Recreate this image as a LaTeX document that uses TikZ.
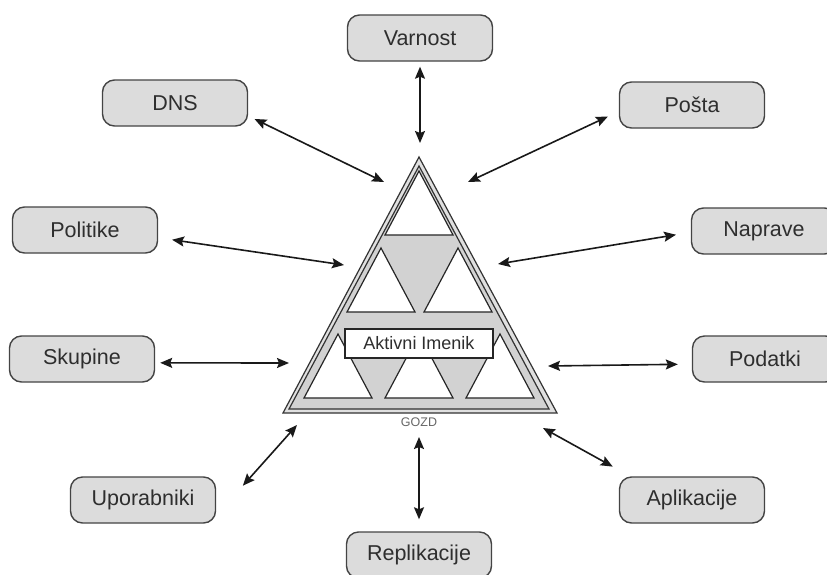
\documentclass[tikz,border=0pt]{standalone}
\usepackage{fontspec}
\setmainfont{Liberation Sans}
\usetikzlibrary{arrows.meta,calc}
\definecolor{boxfill}{HTML}{DCDCDC}
\definecolor{boxline}{HTML}{444444}
\definecolor{txt}{HTML}{2E2E2E}
\definecolor{bandfill}{HTML}{E0E0E0}
\definecolor{pyrfill}{HTML}{D2D2D2}
\begin{document}
\begin{tikzpicture}[x=1pt,y=-1pt,
  topic/.style={draw=boxline, line width=1.4pt, fill=boxfill, rounded corners=12pt,
    minimum width=145pt, minimum height=46pt, inner sep=0pt,
    font=\fontsize{21.5}{24}\selectfont, text=txt},
  link/.style={line width=1.6pt, draw=black!90,
    {Stealth[length=12pt,width=10pt,inset=2pt]}-{Stealth[length=12pt,width=10pt,inset=2pt]}},
  cell/.style={draw=black!85, line width=1.2pt, fill=white, line join=miter},
  shell/.style={draw=black!80, line width=1.2pt, line join=miter}]
\useasboundingbox (0,0) rectangle (827,574);

% pyramid: double outline and grey body
\draw[shell, fill=bandfill] (419,157) -- (557,413) -- (283,413) -- cycle;
\draw[shell, fill=pyrfill] (419,166) -- (549,409) -- (289,409) -- cycle;

% white cells, one row under another
\foreach \cx/\ty in {419/171, 381/248, 458/248, 338/334, 419/334, 500/334}
  \draw[cell] (\cx,\ty) -- ++(34,64) -- ++(-68,0) -- cycle;

\node[draw=black!85, line width=1.2pt, fill=white, minimum width=148pt,
  minimum height=29pt, inner sep=0pt, font=\fontsize{18}{20}\selectfont, text=txt]
  (ad) at (419,343.5) {Aktivni Imenik};
\node[font=\fontsize{12.5}{14}\selectfont, text=black!60, inner sep=0pt] (gozd) at (419,422) {GOZD};

% surrounding topics
\node[topic] (varnost) at (420,38)  {Varnost};
\node[topic] (dns)     at (175,103) {DNS};
\node[topic] (posta)   at (692,105) {Pošta};
\node[topic] (politike) at (85,230) {Politike};
\node[topic] (naprave) at (764,231) {Naprave};
\node[topic] (skupine) at (82,359)  {Skupine};
\node[topic] (podatki) at (765,359) {Podatki};
\node[topic] (upor)    at (143,500) {Uporabniki};
\node[topic] (apl)     at (692,500) {Aplikacije};
\node[topic] (repl)    at (419,555) {Replikacije};

% arrow ends at the pyramid
\coordinate (tV) at (420,143);
\coordinate (tD) at (384,182);
\coordinate (tP) at (468,182);
\coordinate (tPo) at (344,265);
\coordinate (tN) at (498,264);
\coordinate (tS) at (289,363);
\coordinate (tPd) at (548,366);
\coordinate (tU) at (297,425);
\coordinate (tA) at (543,428);
\coordinate (tR) at (419,437);

\draw[link, shorten <=5pt] (varnost.south) -- (tV);
\draw[link, shorten <=7pt] (dns.-10) -- (tD);
\draw[link, shorten <=12pt] (posta.185.6) -- (tP);
\draw[link, shorten <=14pt] (politike.-6.3) -- (tPo);
\draw[link, shorten <=15pt] (naprave.181.3) -- (tN);
\draw[link, shorten <=5pt] (skupine.-3.2) -- (tS);
\draw[link, shorten <=14pt] (podatki.184.8) -- (tPd);
\draw[link, shorten <=40pt] (upor.-12.5) -- (tU);
\draw[link, shorten <=20pt] (apl.159.6) -- (tA);
\draw[link, shorten <=12pt] (repl.north) -- (tR);
\end{tikzpicture}
\end{document}
